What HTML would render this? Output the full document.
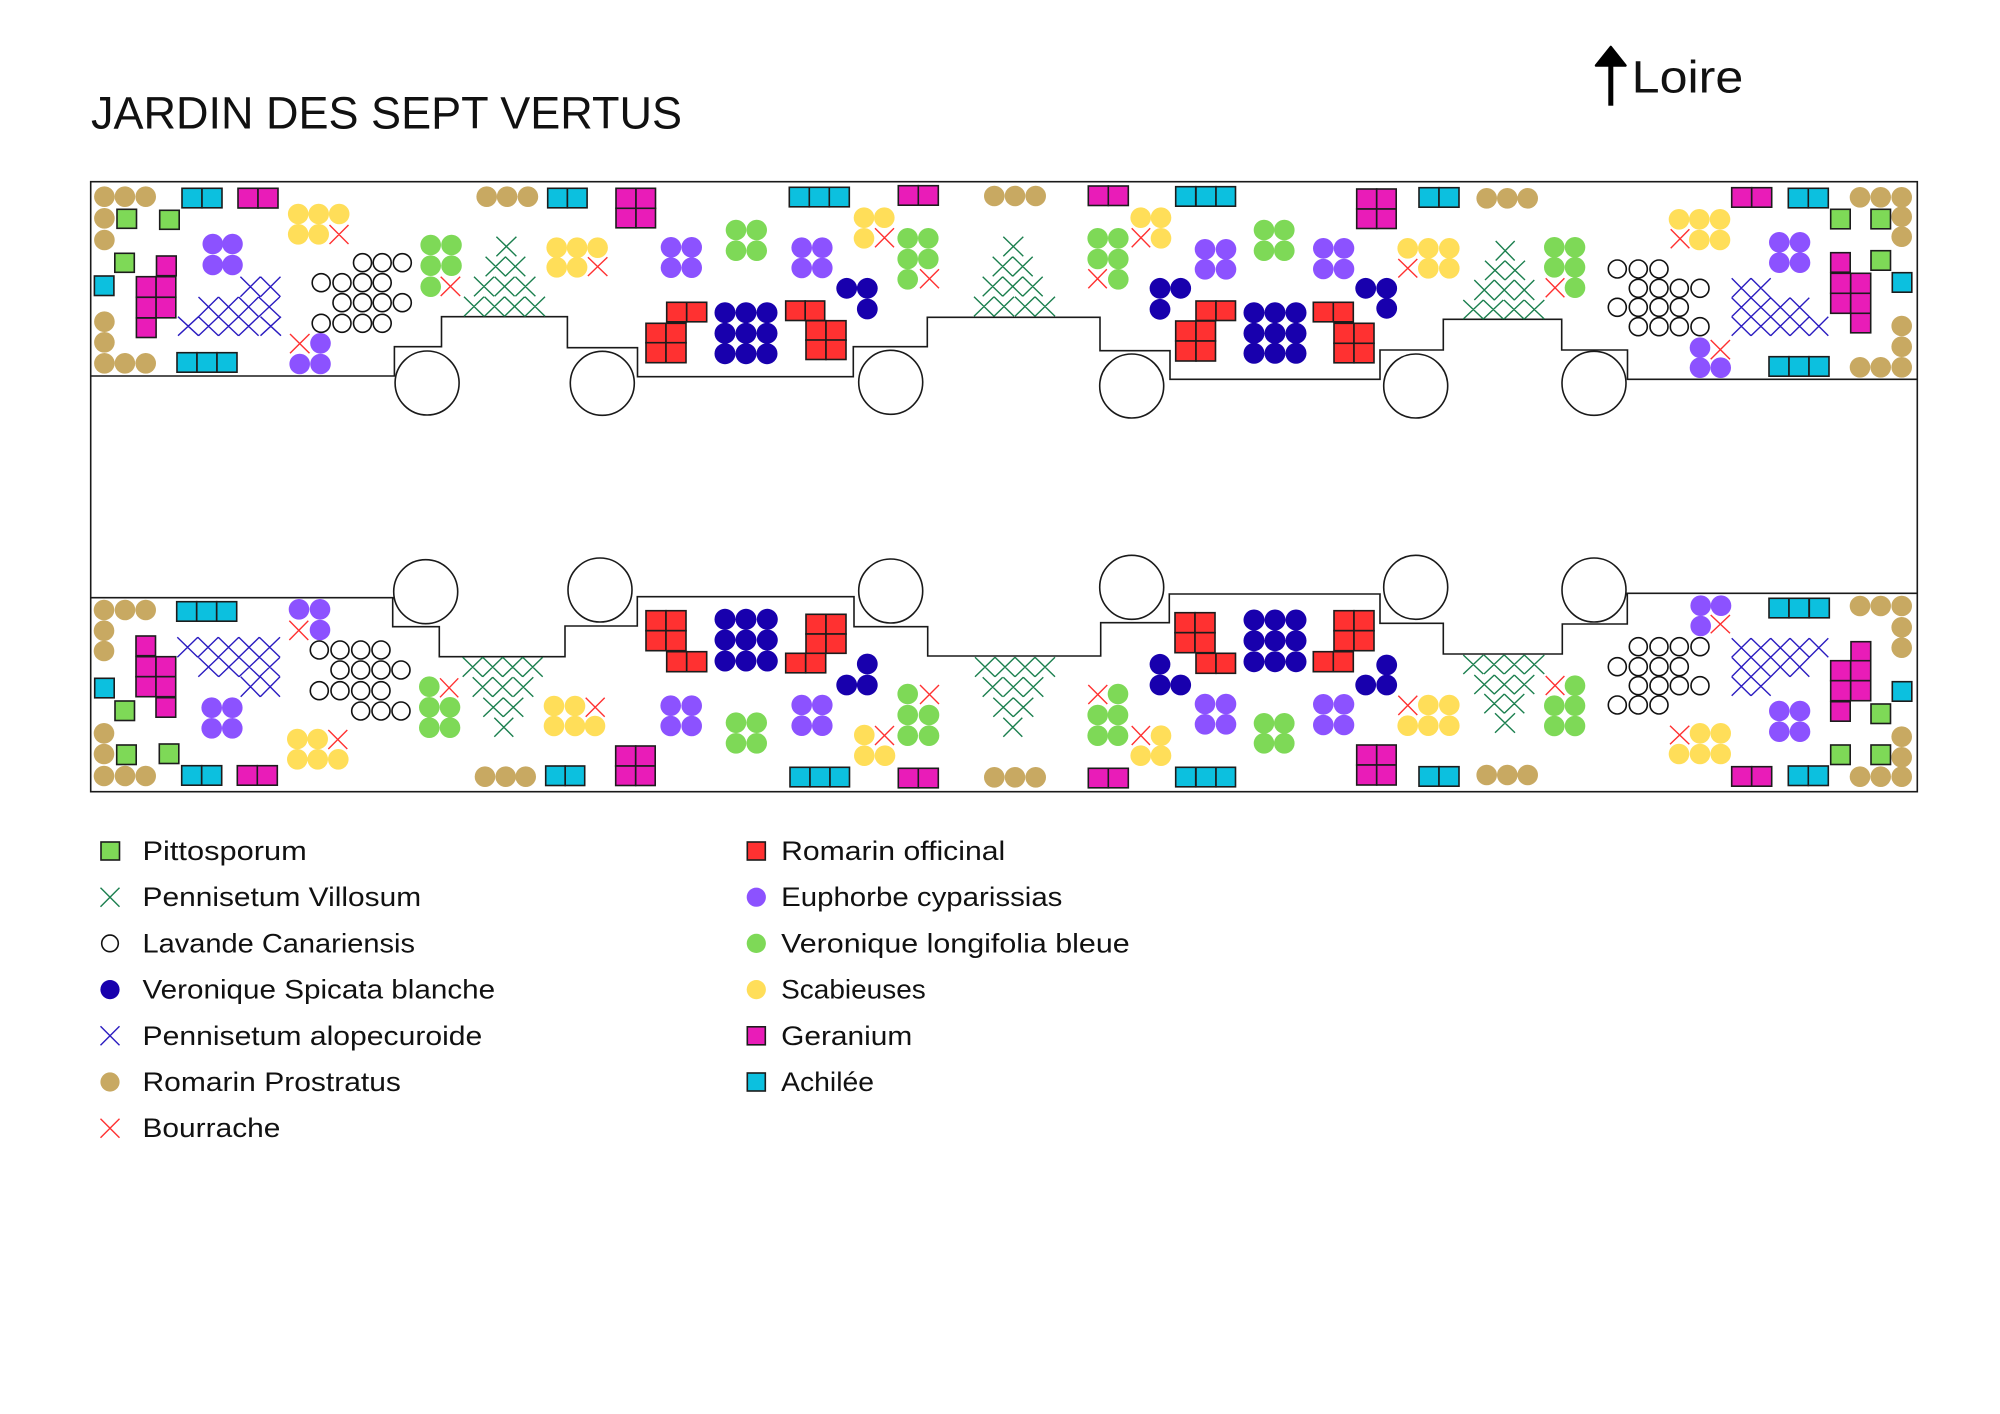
<!DOCTYPE html>
<html>
<head>
<meta charset="utf-8">
<style>
html,body{margin:0;padding:0;background:#fff;}
svg{display:block;}
text{font-family:"Liberation Sans",sans-serif;fill:#111;}
</style>
</head>
<body>
<svg width="2000" height="1414" viewBox="0 0 2000 1414" xmlns="http://www.w3.org/2000/svg">
<rect width="2000" height="1414" fill="#fff"/>

<!-- Title -->
<text x="91" y="128.3" font-size="45.7" textLength="591" lengthAdjust="spacingAndGlyphs">JARDIN DES SEPT VERTUS</text>

<!-- Loire arrow -->
<polygon points="1596,65.5 1610.8,47 1625.5,65.5" fill="#000" stroke="#000" stroke-width="2.5" stroke-linejoin="round"/>
<rect x="1608.3" y="62" width="5" height="43.7" fill="#000"/>
<text x="1631.7" y="92.3" font-size="45.7" textLength="111.6" lengthAdjust="spacingAndGlyphs">Loire</text>

<!-- Frame and borders -->
<g fill="none" stroke="#1a1a1a" stroke-width="1.6">
<rect x="90.7" y="181.7" width="1826.6" height="610"/>
<path d="M90.7,376 H394.4 V346.7 H441.5 V316.7 H567.4 V347.7 H637.5 V376.7 H853.3 V346.7 H927.3 V317.3 H1100 V350.7 H1170 V379.3 H1380 V350 H1443.3 V319.3 H1561.7 V350 H1627.5 V379.3 H1917.3"/>
<path d="M90.7,597.7 H392.7 V626.7 H439.3 V656.7 H565 V626 H637.3 V596.7 H854 V626.7 H927.7 V656 H1100.7 V622.7 H1169.3 V594 H1380 V623.3 H1443.3 V654 H1562.3 V624 H1627.3 V593.3 H1917.3"/>
</g>
<g fill="#fff" stroke="#1a1a1a" stroke-width="1.6">
<circle cx="427.1" cy="383" r="32"/>
<circle cx="602.3" cy="383.3" r="32"/>
<circle cx="890.7" cy="382.3" r="32"/>
<circle cx="1131.7" cy="386" r="32"/>
<circle cx="1415.7" cy="386" r="32"/>
<circle cx="1594" cy="383.3" r="32"/>
<circle cx="425.7" cy="591.7" r="32"/>
<circle cx="600" cy="590" r="32"/>
<circle cx="890.7" cy="591" r="32"/>
<circle cx="1131.7" cy="587.3" r="32"/>
<circle cx="1415.7" cy="587.3" r="32"/>
<circle cx="1594" cy="590" r="32"/>
</g>

<!-- Romarin Prostratus (tan) -->
<g fill="#c8a962">
<circle cx="104.4" cy="196.7" r="10.3"/><circle cx="124.9" cy="196.7" r="10.3"/><circle cx="145.7" cy="196.7" r="10.3"/>
<circle cx="104.4" cy="218.3" r="10.3"/><circle cx="104.4" cy="240" r="10.3"/>
<circle cx="104.4" cy="321.7" r="10.3"/><circle cx="104.4" cy="342.3" r="10.3"/><circle cx="104.4" cy="363.3" r="10.3"/>
<circle cx="124.9" cy="363.3" r="10.3"/><circle cx="145.7" cy="363.3" r="10.3"/>
<circle cx="486.7" cy="196.7" r="10.3"/><circle cx="507.1" cy="196.7" r="10.3"/><circle cx="527.9" cy="196.7" r="10.3"/>
<circle cx="994.3" cy="196" r="10.3"/><circle cx="1015" cy="196" r="10.3"/><circle cx="1035.7" cy="196" r="10.3"/>
<circle cx="1486.7" cy="198.3" r="10.3"/><circle cx="1507.3" cy="198.3" r="10.3"/><circle cx="1527.7" cy="198.3" r="10.3"/>
<circle cx="1860" cy="197.3" r="10.3"/><circle cx="1880.7" cy="197.3" r="10.3"/><circle cx="1901.7" cy="197.3" r="10.3"/>
<circle cx="1901.7" cy="216.7" r="10.3"/><circle cx="1901.7" cy="236.7" r="10.3"/>
<circle cx="1901.7" cy="326" r="10.3"/><circle cx="1901.7" cy="346.7" r="10.3"/><circle cx="1901.7" cy="367.3" r="10.3"/>
<circle cx="1860" cy="367.3" r="10.3"/><circle cx="1880.7" cy="367.3" r="10.3"/>
<!-- bottom -->
<circle cx="104" cy="610" r="10.3"/><circle cx="125" cy="610" r="10.3"/><circle cx="145.7" cy="610" r="10.3"/>
<circle cx="104" cy="630.7" r="10.3"/><circle cx="104" cy="651" r="10.3"/>
<circle cx="104" cy="733.3" r="10.3"/><circle cx="104" cy="754" r="10.3"/><circle cx="104" cy="776" r="10.3"/>
<circle cx="125" cy="776" r="10.3"/><circle cx="145.7" cy="776" r="10.3"/>
<circle cx="485" cy="776.7" r="10.3"/><circle cx="505.7" cy="776.7" r="10.3"/><circle cx="525.7" cy="776.7" r="10.3"/>
<circle cx="994.3" cy="777.3" r="10.3"/><circle cx="1015" cy="777.3" r="10.3"/><circle cx="1035.7" cy="777.3" r="10.3"/>
<circle cx="1486.7" cy="775" r="10.3"/><circle cx="1507.3" cy="775" r="10.3"/><circle cx="1527.7" cy="775" r="10.3"/>
<circle cx="1860" cy="606" r="10.3"/><circle cx="1880.7" cy="606" r="10.3"/><circle cx="1901.7" cy="606" r="10.3"/>
<circle cx="1901.7" cy="627.3" r="10.3"/><circle cx="1901.7" cy="647.7" r="10.3"/>
<circle cx="1901.7" cy="736.7" r="10.3"/><circle cx="1901.7" cy="757.3" r="10.3"/><circle cx="1901.7" cy="776.7" r="10.3"/>
<circle cx="1860" cy="776.7" r="10.3"/><circle cx="1880.7" cy="776.7" r="10.3"/>
</g>

<!-- Pittosporum (green squares) -->
<g fill="#7ed957" stroke="#1c1c1c" stroke-width="1.6">
<rect x="117" y="209.3" width="19.5" height="19"/>
<rect x="159.7" y="210.3" width="19.5" height="19"/>
<rect x="114.8" y="253.3" width="19.5" height="19"/>
<rect x="1830.7" y="209.3" width="19.5" height="19.5"/>
<rect x="1871" y="209.3" width="19.5" height="19.5"/>
<rect x="1871" y="250.7" width="19.5" height="19.5"/>
<rect x="115" y="701" width="19.5" height="19.5"/>
<rect x="116.7" y="745" width="19.5" height="19.5"/>
<rect x="159.3" y="744" width="19.5" height="19.5"/>
<rect x="1871" y="704" width="19.5" height="19.5"/>
<rect x="1830.7" y="745" width="19.5" height="19.5"/>
<rect x="1871" y="745" width="19.5" height="19.5"/>
</g>

<!-- Achillée (cyan squares) -->
<g fill="#0cc0df" stroke="#1c1c1c" stroke-width="1.6">
<rect x="182" y="188.3" width="20" height="19.5"/><rect x="202" y="188.3" width="20" height="19.5"/>
<rect x="94.4" y="276" width="19.5" height="19.5"/>
<rect x="177" y="352.7" width="20" height="19.5"/><rect x="197" y="352.7" width="20" height="19.5"/><rect x="217" y="352.7" width="20" height="19.5"/>
<rect x="547.7" y="188.3" width="19.7" height="19.5"/><rect x="567.4" y="188.3" width="19.7" height="19.5"/>
<rect x="789.3" y="187.3" width="20" height="19.5"/><rect x="809.3" y="187.3" width="20" height="19.5"/><rect x="829.3" y="187.3" width="20" height="19.5"/>
<rect x="1175.7" y="186.7" width="20" height="19.5"/><rect x="1196" y="186.7" width="20" height="19.5"/><rect x="1216" y="186.7" width="19.5" height="19.5"/>
<rect x="1419" y="187.7" width="20" height="19.5"/><rect x="1439" y="187.7" width="20" height="19.5"/>
<rect x="1788.3" y="188.3" width="20" height="19.5"/><rect x="1808.3" y="188.3" width="20" height="19.5"/>
<rect x="1892.3" y="272.7" width="19.5" height="19.5"/>
<rect x="1769" y="356.7" width="20" height="19.5"/><rect x="1789" y="356.7" width="20" height="19.5"/><rect x="1809" y="356.7" width="20" height="19.5"/>
<!-- bottom -->
<rect x="176.7" y="601.7" width="20" height="19.5"/><rect x="196.7" y="601.7" width="20" height="19.5"/><rect x="216.7" y="601.7" width="20" height="19.5"/>
<rect x="94.7" y="678.3" width="19.5" height="19.5"/>
<rect x="181.7" y="765.7" width="20" height="19.5"/><rect x="201.7" y="765.7" width="20" height="19.5"/>
<rect x="545.7" y="766" width="19.5" height="19.5"/><rect x="565.2" y="766" width="19.5" height="19.5"/>
<rect x="790" y="767.3" width="20" height="19.5"/><rect x="810" y="767.3" width="20" height="19.5"/><rect x="830" y="767.3" width="19.5" height="19.5"/>
<rect x="1175.7" y="767.3" width="20" height="19.5"/><rect x="1196" y="767.3" width="20" height="19.5"/><rect x="1216" y="767.3" width="19.5" height="19.5"/>
<rect x="1419" y="766.7" width="20" height="19.5"/><rect x="1439" y="766.7" width="20" height="19.5"/>
<rect x="1769" y="598.3" width="20" height="19.5"/><rect x="1789" y="598.3" width="20" height="19.5"/><rect x="1809.3" y="598.3" width="20" height="19.5"/>
<rect x="1892.3" y="681.7" width="19.5" height="19.5"/>
<rect x="1788.3" y="766" width="20" height="19.5"/><rect x="1808.3" y="766" width="20" height="19.5"/>
</g>

<!-- Geranium (magenta squares) -->
<g fill="#e91cb8" stroke="#1c1c1c" stroke-width="1.6">
<rect x="238" y="188.3" width="20" height="19.7"/><rect x="258" y="188.3" width="20" height="19.7"/>
<rect x="156.5" y="256" width="19.7" height="19.7"/>
<rect x="136.4" y="276.7" width="19.7" height="20.5"/><rect x="156.1" y="276.7" width="19.7" height="20.5"/>
<rect x="136.4" y="297.3" width="19.7" height="20.5"/><rect x="156.1" y="297.3" width="19.7" height="20.5"/>
<rect x="136.4" y="318" width="19.7" height="19.5"/>
<rect x="616" y="188.3" width="20" height="20"/><rect x="636" y="188.3" width="19.5" height="20"/>
<rect x="616" y="208.3" width="20" height="19.5"/><rect x="636" y="208.3" width="19.5" height="19.5"/>
<rect x="898.3" y="185.7" width="20" height="19.5"/><rect x="918.3" y="185.7" width="20" height="19.5"/>
<rect x="1088.3" y="186" width="20" height="19.5"/><rect x="1108.3" y="186" width="20" height="19.5"/>
<rect x="1356.7" y="189" width="20" height="20"/><rect x="1376.7" y="189" width="19.5" height="20"/>
<rect x="1356.7" y="209" width="20" height="19.5"/><rect x="1376.7" y="209" width="19.5" height="19.5"/>
<rect x="1731.7" y="187.7" width="20" height="19.5"/><rect x="1751.7" y="187.7" width="20" height="19.5"/>
<rect x="1830.7" y="252.7" width="19.5" height="19.5"/>
<rect x="1830.7" y="273.3" width="20" height="20"/><rect x="1850.7" y="273.3" width="20" height="20"/>
<rect x="1830.7" y="293.3" width="20" height="20"/><rect x="1850.7" y="293.3" width="20" height="20"/>
<rect x="1850.7" y="313.3" width="20" height="19.5"/>
<!-- bottom -->
<rect x="136" y="636" width="19.5" height="19.7"/>
<rect x="136" y="656.7" width="20" height="20"/><rect x="156" y="656.7" width="19.7" height="20"/>
<rect x="136" y="676.7" width="20" height="20"/><rect x="156" y="676.7" width="19.7" height="20"/>
<rect x="156" y="697.7" width="19.7" height="19.5"/>
<rect x="237.3" y="765.7" width="20" height="19.5"/><rect x="257.3" y="765.7" width="20" height="19.5"/>
<rect x="615.7" y="746" width="20" height="20"/><rect x="635.7" y="746" width="19.5" height="20"/>
<rect x="615.7" y="766" width="20" height="19.5"/><rect x="635.7" y="766" width="19.5" height="19.5"/>
<rect x="898.3" y="768.3" width="20" height="19.5"/><rect x="918.3" y="768.3" width="20" height="19.5"/>
<rect x="1088.3" y="768.3" width="20" height="19.5"/><rect x="1108.3" y="768.3" width="20" height="19.5"/>
<rect x="1356.7" y="745" width="20" height="20"/><rect x="1376.7" y="745" width="19.5" height="20"/>
<rect x="1356.7" y="765" width="20" height="20"/><rect x="1376.7" y="765" width="19.5" height="20"/>
<rect x="1731.7" y="766.7" width="20" height="19.5"/><rect x="1751.7" y="766.7" width="20" height="19.5"/>
<rect x="1851" y="641.7" width="19.7" height="19.5"/>
<rect x="1830.7" y="660.7" width="20" height="20"/><rect x="1850.7" y="660.7" width="20" height="20"/>
<rect x="1830.7" y="680.7" width="20" height="20"/><rect x="1850.7" y="680.7" width="20" height="20"/>
<rect x="1830.7" y="701.7" width="19.5" height="19.5"/>
</g>

<!-- Romarin officinal (red squares) -->
<g fill="#ff3131" stroke="#1c1c1c" stroke-width="1.6">
<rect x="666.7" y="302.3" width="20" height="19.5"/><rect x="686.7" y="302.3" width="20" height="19.5"/>
<rect x="646" y="323.3" width="20" height="19.5"/><rect x="666" y="323.3" width="20" height="19.5"/>
<rect x="646" y="342.7" width="20" height="20"/><rect x="666" y="342.7" width="20" height="20"/>
<rect x="785.7" y="301" width="19.5" height="19.5"/><rect x="805.2" y="301" width="19.5" height="19.5"/>
<rect x="806" y="320.7" width="20" height="19.5"/><rect x="826" y="320.7" width="20" height="19.5"/>
<rect x="806" y="340" width="20" height="19.5"/><rect x="826" y="340" width="20" height="19.5"/>
<rect x="1196" y="301" width="20" height="19.5"/><rect x="1216" y="301" width="19.5" height="19.5"/>
<rect x="1175.7" y="321" width="20.3" height="20"/><rect x="1196" y="321" width="19.5" height="20"/>
<rect x="1175.7" y="341" width="20.3" height="20"/><rect x="1196" y="341" width="19.5" height="20"/>
<rect x="1313.3" y="302.3" width="20" height="19.5"/><rect x="1333.3" y="302.3" width="20" height="19.5"/>
<rect x="1334" y="323.3" width="20" height="20"/><rect x="1354" y="323.3" width="20" height="20"/>
<rect x="1334" y="343.3" width="20" height="19.5"/><rect x="1354" y="343.3" width="20" height="19.5"/>
<!-- bottom -->
<rect x="646" y="610.7" width="20" height="20"/><rect x="666" y="610.7" width="20" height="20"/>
<rect x="646" y="630.7" width="20" height="20"/><rect x="666" y="630.7" width="20" height="20"/>
<rect x="666.7" y="651.7" width="20" height="20"/><rect x="686.7" y="651.7" width="20" height="20"/>
<rect x="806" y="614.3" width="20" height="19.7"/><rect x="826" y="614.3" width="20" height="19.7"/>
<rect x="806" y="634" width="20" height="19.3"/><rect x="826" y="634" width="20" height="19.3"/>
<rect x="785.7" y="653.3" width="20" height="19.5"/><rect x="805.7" y="653.3" width="20" height="19.5"/>
<rect x="1175" y="612.7" width="20" height="20"/><rect x="1195" y="612.7" width="20" height="20"/>
<rect x="1175" y="632.7" width="20" height="20"/><rect x="1195" y="632.7" width="20" height="20"/>
<rect x="1196" y="653.3" width="20" height="20"/><rect x="1216" y="653.3" width="19.5" height="20"/>
<rect x="1334" y="610.7" width="20" height="20"/><rect x="1354" y="610.7" width="20" height="20"/>
<rect x="1334" y="630.7" width="20" height="20"/><rect x="1354" y="630.7" width="20" height="20"/>
<rect x="1313.3" y="651.7" width="20" height="20"/><rect x="1333.3" y="651.7" width="20" height="20"/>
</g>

<!-- Euphorbe (purple) -->
<g fill="#8c52ff">
<circle cx="212.8" cy="244" r="10.3"/><circle cx="232.5" cy="244" r="10.3"/><circle cx="212.8" cy="265" r="10.3"/><circle cx="232.5" cy="265" r="10.3"/>
<circle cx="320.5" cy="343.3" r="10.3"/><circle cx="299.7" cy="364" r="10.3"/><circle cx="320.5" cy="364" r="10.3"/>
<circle cx="671" cy="247.3" r="10.3"/><circle cx="691.7" cy="247.3" r="10.3"/><circle cx="671" cy="267.7" r="10.3"/><circle cx="691.7" cy="267.7" r="10.3"/>
<circle cx="801.7" cy="247.7" r="10.3"/><circle cx="822.3" cy="247.7" r="10.3"/><circle cx="801.7" cy="268" r="10.3"/><circle cx="822.3" cy="268" r="10.3"/>
<circle cx="1205" cy="249.3" r="10.3"/><circle cx="1226" cy="249.3" r="10.3"/><circle cx="1205" cy="269.3" r="10.3"/><circle cx="1226" cy="269.3" r="10.3"/>
<circle cx="1323.3" cy="248.3" r="10.3"/><circle cx="1344" cy="248.3" r="10.3"/><circle cx="1323.3" cy="269" r="10.3"/><circle cx="1344" cy="269" r="10.3"/>
<circle cx="1779.3" cy="242.3" r="10.3"/><circle cx="1800" cy="242.3" r="10.3"/><circle cx="1779.3" cy="262.7" r="10.3"/><circle cx="1800" cy="262.7" r="10.3"/>
<circle cx="1700" cy="347.7" r="10.3"/><circle cx="1700" cy="367.7" r="10.3"/><circle cx="1720.7" cy="367.7" r="10.3"/>
<!-- bottom -->
<circle cx="299" cy="609.3" r="10.3"/><circle cx="320" cy="609.3" r="10.3"/><circle cx="320" cy="630" r="10.3"/>
<circle cx="211.7" cy="707.7" r="10.3"/><circle cx="232.3" cy="707.7" r="10.3"/><circle cx="211.7" cy="728.3" r="10.3"/><circle cx="232.3" cy="728.3" r="10.3"/>
<circle cx="670.7" cy="705.7" r="10.3"/><circle cx="691.7" cy="705.7" r="10.3"/><circle cx="670.7" cy="726" r="10.3"/><circle cx="691.7" cy="726" r="10.3"/>
<circle cx="801.7" cy="705" r="10.3"/><circle cx="822.3" cy="705" r="10.3"/><circle cx="801.7" cy="725.7" r="10.3"/><circle cx="822.3" cy="725.7" r="10.3"/>
<circle cx="1205" cy="704" r="10.3"/><circle cx="1226" cy="704" r="10.3"/><circle cx="1205" cy="724.3" r="10.3"/><circle cx="1226" cy="724.3" r="10.3"/>
<circle cx="1323.3" cy="704.3" r="10.3"/><circle cx="1344" cy="704.3" r="10.3"/><circle cx="1323.3" cy="725" r="10.3"/><circle cx="1344" cy="725" r="10.3"/>
<circle cx="1700.7" cy="605.7" r="10.3"/><circle cx="1721" cy="605.7" r="10.3"/><circle cx="1700.7" cy="626" r="10.3"/>
<circle cx="1779.3" cy="711" r="10.3"/><circle cx="1800" cy="711" r="10.3"/><circle cx="1779.3" cy="731.7" r="10.3"/><circle cx="1800" cy="731.7" r="10.3"/>
</g>

<!-- Veronique longifolia (green circles) -->
<g fill="#7ed957">
<circle cx="430.7" cy="245" r="10.3"/><circle cx="451.5" cy="245" r="10.3"/><circle cx="430.7" cy="265.7" r="10.3"/><circle cx="451.5" cy="265.7" r="10.3"/><circle cx="430.7" cy="286.7" r="10.3"/>
<circle cx="736" cy="230" r="10.3"/><circle cx="756.7" cy="230" r="10.3"/><circle cx="736" cy="250.7" r="10.3"/><circle cx="756.7" cy="250.7" r="10.3"/>
<circle cx="907.7" cy="238.3" r="10.3"/><circle cx="928.3" cy="238.3" r="10.3"/><circle cx="907.7" cy="259" r="10.3"/><circle cx="928.3" cy="259" r="10.3"/><circle cx="907.7" cy="279.3" r="10.3"/>
<circle cx="1097.7" cy="238.3" r="10.3"/><circle cx="1118.3" cy="238.3" r="10.3"/><circle cx="1097.7" cy="259" r="10.3"/><circle cx="1118.3" cy="259" r="10.3"/><circle cx="1118.3" cy="279.3" r="10.3"/>
<circle cx="1264" cy="230" r="10.3"/><circle cx="1284.3" cy="230" r="10.3"/><circle cx="1264" cy="250.7" r="10.3"/><circle cx="1284.3" cy="250.7" r="10.3"/>
<circle cx="1554.3" cy="247.3" r="10.3"/><circle cx="1575" cy="247.3" r="10.3"/><circle cx="1554.3" cy="267.3" r="10.3"/><circle cx="1575" cy="267.3" r="10.3"/><circle cx="1575" cy="287.7" r="10.3"/>
<!-- bottom -->
<circle cx="429.3" cy="686.7" r="10.3"/><circle cx="429.3" cy="707.3" r="10.3"/><circle cx="450" cy="707.3" r="10.3"/><circle cx="429.3" cy="727.7" r="10.3"/><circle cx="450" cy="727.7" r="10.3"/>
<circle cx="736" cy="722.7" r="10.3"/><circle cx="756.7" cy="722.7" r="10.3"/><circle cx="736" cy="743.3" r="10.3"/><circle cx="756.7" cy="743.3" r="10.3"/>
<circle cx="907.7" cy="694" r="10.3"/><circle cx="907.7" cy="715" r="10.3"/><circle cx="929" cy="715" r="10.3"/><circle cx="907.7" cy="735.7" r="10.3"/><circle cx="929" cy="735.7" r="10.3"/>
<circle cx="1118" cy="694" r="10.3"/><circle cx="1097.7" cy="715" r="10.3"/><circle cx="1118" cy="715" r="10.3"/><circle cx="1097.7" cy="735.7" r="10.3"/><circle cx="1118" cy="735.7" r="10.3"/>
<circle cx="1264" cy="723.3" r="10.3"/><circle cx="1284.3" cy="723.3" r="10.3"/><circle cx="1264" cy="743.3" r="10.3"/><circle cx="1284.3" cy="743.3" r="10.3"/>
<circle cx="1575" cy="685.7" r="10.3"/><circle cx="1554.3" cy="705.7" r="10.3"/><circle cx="1575" cy="705.7" r="10.3"/><circle cx="1554.3" cy="726" r="10.3"/><circle cx="1575" cy="726" r="10.3"/>
</g>

<!-- Scabieuses (yellow) -->
<g fill="#ffde59">
<circle cx="298.2" cy="214" r="10.3"/><circle cx="318.7" cy="214" r="10.3"/><circle cx="339.2" cy="214" r="10.3"/><circle cx="298.2" cy="234.3" r="10.3"/><circle cx="318.7" cy="234.3" r="10.3"/>
<circle cx="556.7" cy="247.7" r="10.3"/><circle cx="577.1" cy="247.7" r="10.3"/><circle cx="597.6" cy="247.7" r="10.3"/><circle cx="556.7" cy="267.3" r="10.3"/><circle cx="577.1" cy="267.3" r="10.3"/>
<circle cx="864" cy="217.7" r="10.3"/><circle cx="884.3" cy="217.7" r="10.3"/><circle cx="864" cy="238.3" r="10.3"/>
<circle cx="1140.7" cy="217.7" r="10.3"/><circle cx="1161" cy="217.7" r="10.3"/><circle cx="1161" cy="238.3" r="10.3"/>
<circle cx="1407.7" cy="248.3" r="10.3"/><circle cx="1428.3" cy="248.3" r="10.3"/><circle cx="1449.3" cy="248.3" r="10.3"/><circle cx="1428.3" cy="268.3" r="10.3"/><circle cx="1449.3" cy="268.3" r="10.3"/>
<circle cx="1679" cy="219.3" r="10.3"/><circle cx="1699.3" cy="219.3" r="10.3"/><circle cx="1720" cy="219.3" r="10.3"/><circle cx="1699.3" cy="240" r="10.3"/><circle cx="1720" cy="240" r="10.3"/>
<!-- bottom -->
<circle cx="297.3" cy="739" r="10.3"/><circle cx="317.7" cy="739" r="10.3"/><circle cx="297.3" cy="759.3" r="10.3"/><circle cx="317.7" cy="759.3" r="10.3"/><circle cx="338.3" cy="759.3" r="10.3"/>
<circle cx="554" cy="706" r="10.3"/><circle cx="575" cy="706" r="10.3"/><circle cx="554" cy="726" r="10.3"/><circle cx="575" cy="726" r="10.3"/><circle cx="595" cy="726" r="10.3"/>
<circle cx="864.3" cy="735" r="10.3"/><circle cx="864.3" cy="755.7" r="10.3"/><circle cx="885" cy="755.7" r="10.3"/>
<circle cx="1161" cy="735.7" r="10.3"/><circle cx="1140.7" cy="755.7" r="10.3"/><circle cx="1161" cy="755.7" r="10.3"/>
<circle cx="1428.3" cy="705" r="10.3"/><circle cx="1449.3" cy="705" r="10.3"/><circle cx="1407.7" cy="725.7" r="10.3"/><circle cx="1428.3" cy="725.7" r="10.3"/><circle cx="1449.3" cy="725.7" r="10.3"/>
<circle cx="1700" cy="733.3" r="10.3"/><circle cx="1720.7" cy="733.3" r="10.3"/><circle cx="1679" cy="754" r="10.3"/><circle cx="1700" cy="754" r="10.3"/><circle cx="1720.7" cy="754" r="10.3"/>
</g>

<!-- Veronique Spicata blanche (dark blue) -->
<g fill="#1800ad">
<circle cx="846.7" cy="288.3" r="10.4"/><circle cx="867.3" cy="288.3" r="10.4"/><circle cx="867.3" cy="309" r="10.4"/>
<circle cx="725" cy="312.7" r="10.5"/><circle cx="746" cy="312.7" r="10.5"/><circle cx="767" cy="312.7" r="10.5"/>
<circle cx="725" cy="333.3" r="10.5"/><circle cx="746" cy="333.3" r="10.5"/><circle cx="767" cy="333.3" r="10.5"/>
<circle cx="725" cy="353.7" r="10.5"/><circle cx="746" cy="353.7" r="10.5"/><circle cx="767" cy="353.7" r="10.5"/>
<circle cx="1160" cy="288.3" r="10.4"/><circle cx="1180.7" cy="288.3" r="10.4"/><circle cx="1160" cy="309.3" r="10.4"/>
<circle cx="1254" cy="312.7" r="10.5"/><circle cx="1275" cy="312.7" r="10.5"/><circle cx="1296" cy="312.7" r="10.5"/>
<circle cx="1254" cy="333.3" r="10.5"/><circle cx="1275" cy="333.3" r="10.5"/><circle cx="1296" cy="333.3" r="10.5"/>
<circle cx="1254" cy="353.3" r="10.5"/><circle cx="1275" cy="353.3" r="10.5"/><circle cx="1296" cy="353.3" r="10.5"/>
<circle cx="1365.7" cy="288.3" r="10.4"/><circle cx="1386.7" cy="288.3" r="10.4"/><circle cx="1386.7" cy="308.3" r="10.4"/>
<!-- bottom -->
<circle cx="867.3" cy="664" r="10.4"/><circle cx="846.7" cy="685" r="10.4"/><circle cx="867.3" cy="685" r="10.4"/>
<circle cx="725" cy="619.3" r="10.5"/><circle cx="746" cy="619.3" r="10.5"/><circle cx="767.3" cy="619.3" r="10.5"/>
<circle cx="725" cy="640" r="10.5"/><circle cx="746" cy="640" r="10.5"/><circle cx="767.3" cy="640" r="10.5"/>
<circle cx="725" cy="661" r="10.5"/><circle cx="746" cy="661" r="10.5"/><circle cx="767.3" cy="661" r="10.5"/>
<circle cx="1160" cy="664.3" r="10.4"/><circle cx="1160" cy="685" r="10.4"/><circle cx="1180.7" cy="685" r="10.4"/>
<circle cx="1254" cy="620" r="10.5"/><circle cx="1275" cy="620" r="10.5"/><circle cx="1296" cy="620" r="10.5"/>
<circle cx="1254" cy="640.7" r="10.5"/><circle cx="1275" cy="640.7" r="10.5"/><circle cx="1296" cy="640.7" r="10.5"/>
<circle cx="1254" cy="661.7" r="10.5"/><circle cx="1275" cy="661.7" r="10.5"/><circle cx="1296" cy="661.7" r="10.5"/>
<circle cx="1386.7" cy="665" r="10.4"/><circle cx="1365.7" cy="685" r="10.4"/><circle cx="1386.7" cy="685" r="10.4"/>
</g>

<!-- Lavande Canariensis (outline circles) -->
<g fill="#fff" stroke="#111" stroke-width="1.6">
<circle cx="362.5" cy="262.7" r="9"/><circle cx="382.2" cy="262.7" r="9"/><circle cx="402.3" cy="262.7" r="9"/>
<circle cx="321.2" cy="282.7" r="9"/><circle cx="342" cy="282.7" r="9"/><circle cx="362.5" cy="282.7" r="9"/><circle cx="382.2" cy="282.7" r="9"/>
<circle cx="342" cy="302.7" r="9"/><circle cx="362.5" cy="302.7" r="9"/><circle cx="382.2" cy="302.7" r="9"/><circle cx="402.3" cy="302.7" r="9"/>
<circle cx="321.2" cy="323.3" r="9"/><circle cx="342" cy="323.3" r="9"/><circle cx="362.5" cy="323.3" r="9"/><circle cx="382.2" cy="323.3" r="9"/>
<circle cx="1617.3" cy="269" r="9"/><circle cx="1638.3" cy="269" r="9"/><circle cx="1659" cy="269" r="9"/>
<circle cx="1638.3" cy="288.3" r="9"/><circle cx="1659" cy="288.3" r="9"/><circle cx="1679.3" cy="288.3" r="9"/><circle cx="1700" cy="288.3" r="9"/>
<circle cx="1617.3" cy="307.3" r="9"/><circle cx="1638.3" cy="307.3" r="9"/><circle cx="1659" cy="307.3" r="9"/><circle cx="1679.3" cy="307.3" r="9"/>
<circle cx="1638.3" cy="326.7" r="9"/><circle cx="1659" cy="326.7" r="9"/><circle cx="1679.3" cy="326.7" r="9"/><circle cx="1700" cy="326.7" r="9"/>
<!-- bottom -->
<circle cx="319.3" cy="650" r="9"/><circle cx="340" cy="650" r="9"/><circle cx="360.7" cy="650" r="9"/><circle cx="381" cy="650" r="9"/>
<circle cx="340" cy="670" r="9"/><circle cx="360.7" cy="670" r="9"/><circle cx="381" cy="670" r="9"/><circle cx="401" cy="670" r="9"/>
<circle cx="319.3" cy="690.7" r="9"/><circle cx="340" cy="690.7" r="9"/><circle cx="360.7" cy="690.7" r="9"/><circle cx="381" cy="690.7" r="9"/>
<circle cx="360.7" cy="711" r="9"/><circle cx="381" cy="711" r="9"/><circle cx="401" cy="711" r="9"/>
<circle cx="1638.3" cy="646.7" r="9"/><circle cx="1659" cy="646.7" r="9"/><circle cx="1679.3" cy="646.7" r="9"/><circle cx="1700" cy="646.7" r="9"/>
<circle cx="1617.3" cy="666.7" r="9"/><circle cx="1638.3" cy="666.7" r="9"/><circle cx="1659" cy="666.7" r="9"/><circle cx="1679.3" cy="666.7" r="9"/>
<circle cx="1638.3" cy="685.7" r="9"/><circle cx="1659" cy="685.7" r="9"/><circle cx="1679.3" cy="685.7" r="9"/><circle cx="1700" cy="685.7" r="9"/>
<circle cx="1617.3" cy="705" r="9"/><circle cx="1638.3" cy="705" r="9"/><circle cx="1659" cy="705" r="9"/>
</g>

<!-- Pennisetum Villosum (green X) -->
<path fill="none" stroke="#1b7f4e" stroke-width="1.4" d="
M496.4,236.7l20,19.5m0,-19.5l-20,19.5
M485.6,256.7l20,19.5m0,-19.5l-20,19.5 M505.3,256.7l20,19.5m0,-19.5l-20,19.5
M474,276.7l20,19.5m0,-19.5l-20,19.5 M494.6,276.7l20,19.5m0,-19.5l-20,19.5 M515.4,276.7l20,19.5m0,-19.5l-20,19.5
M464,296.7l20,19.5m0,-19.5l-20,19.5 M484.5,296.7l20,19.5m0,-19.5l-20,19.5 M504.6,296.7l20,19.5m0,-19.5l-20,19.5 M525,296.7l20,19.5m0,-19.5l-20,19.5
M1003.3,236.7l20,19.5m0,-19.5l-20,19.5
M992.7,256.7l20,19.5m0,-19.5l-20,19.5 M1012.7,256.7l20,19.5m0,-19.5l-20,19.5
M982.7,276.7l20,19.5m0,-19.5l-20,19.5 M1002.7,276.7l20,19.5m0,-19.5l-20,19.5 M1022.7,276.7l20,19.5m0,-19.5l-20,19.5
M974,296.7l20,19.5m0,-19.5l-20,19.5 M994,296.7l20,19.5m0,-19.5l-20,19.5 M1015,296.7l20,19.5m0,-19.5l-20,19.5 M1035,296.7l20,19.5m0,-19.5l-20,19.5
M1495.7,241l19,19.5m0,-19.5l-19,19.5
M1485,260.7l20,19.3m0,-19.3l-20,19.3 M1505,260.7l20,19.3m0,-19.3l-20,19.3
M1474.3,280l20,20m0,-20l-20,20 M1494.3,280l20,20m0,-20l-20,20 M1514.3,280l20,20m0,-20l-20,20
M1463.3,300l20,19m0,-19l-20,19 M1483.3,300l20,19m0,-19l-20,19 M1504,300l20,19m0,-19l-20,19 M1524.3,300l20,19m0,-19l-20,19
M462.7,657.3l20,19.5m0,-19.5l-20,19.5 M482.7,657.3l20,19.5m0,-19.5l-20,19.5 M502.7,657.3l20,19.5m0,-19.5l-20,19.5 M522.7,657.3l20,19.5m0,-19.5l-20,19.5
M472.7,677.3l20,19.5m0,-19.5l-20,19.5 M492.7,677.3l20,19.5m0,-19.5l-20,19.5 M513.3,677.3l20,19.5m0,-19.5l-20,19.5
M483.3,697.7l20,19m0,-19l-20,19 M503.3,697.7l20,19m0,-19l-20,19
M494.3,717.7l19,19m0,-19l-19,19
M975,657.3l20,19.5m0,-19.5l-20,19.5 M995,657.3l20,19.5m0,-19.5l-20,19.5 M1015,657.3l20,19.5m0,-19.5l-20,19.5 M1035,657.3l20,19.5m0,-19.5l-20,19.5
M982.7,677.3l20,19.5m0,-19.5l-20,19.5 M1003.3,677.3l20,19.5m0,-19.5l-20,19.5 M1023.3,677.3l20,19.5m0,-19.5l-20,19.5
M993.3,697.7l20,19m0,-19l-20,19 M1013.3,697.7l20,19m0,-19l-20,19
M1003.3,717.7l19,19m0,-19l-19,19
M1463.3,655l20,19m0,-19l-20,19 M1484,655l20,19m0,-19l-20,19 M1504.3,655l20,19m0,-19l-20,19 M1524.3,655l20,19m0,-19l-20,19
M1474.3,675l20,19m0,-19l-20,19 M1494.3,675l20,19m0,-19l-20,19 M1514.3,675l20,19m0,-19l-20,19
M1484.3,694l20,19.3m0,-19.3l-20,19.3 M1504.3,694l20,19.3m0,-19.3l-20,19.3
M1495,713.3l20,19.4m0,-19.4l-20,19.4
"/>

<!-- Pennisetum alopecuroide (blue X) -->
<path fill="none" stroke="#2b1cc0" stroke-width="1.4" d="
M240.4,276.7l20,20m0,-20l-20,20 M260.5,276.7l20,20m0,-20l-20,20
M198.5,297l20,19.7m0,-19.7l-20,19.7 M218.5,297l20,19.7m0,-19.7l-20,19.7 M238.6,297l20,19.7m0,-19.7l-20,19.7 M258.7,297l21,19.7m0,-19.7l-21,19.7
M178,316.7l20.5,19m0,-19l-20.5,19 M198.5,316.7l20,19m0,-19l-20,19 M218.5,316.7l20,19m0,-19l-20,19 M238.6,316.7l20,19m0,-19l-20,19 M260.5,316.7l20.5,19m0,-19l-20.5,19
M1731.7,278.3l19.3,19.4m0,-19.4l-19.3,19.4 M1751,278.3l19.7,19.4m0,-19.4l-19.7,19.4
M1731.7,297.7l19.3,19m0,-19l-19.3,19 M1751,297.7l19.7,19m0,-19l-19.7,19 M1770.7,297.7l19.3,19m0,-19l-19.3,19 M1790,297.7l19.3,19m0,-19l-19.3,19
M1731.7,316.7l19.3,19m0,-19l-19.3,19 M1751,316.7l19.7,19m0,-19l-19.7,19 M1770.7,316.7l19.3,19m0,-19l-19.3,19 M1790,316.7l19.3,19m0,-19l-19.3,19 M1809.3,316.7l19,19m0,-19l-19,19
M177.3,637.3l20.5,20m0,-20l-20.5,20 M197.8,637.3l20.5,20m0,-20l-20.5,20 M218.3,637.3l20.5,20m0,-20l-20.5,20 M238.8,637.3l20.5,20m0,-20l-20.5,20 M259.3,637.3l20.7,20m0,-20l-20.7,20
M198.3,657.3l20.4,19.4m0,-19.4l-20.4,19.4 M218.7,657.3l20.3,19.4m0,-19.4l-20.3,19.4 M239,657.3l20.5,19.4m0,-19.4l-20.5,19.4 M259.5,657.3l20.5,19.4m0,-19.4l-20.5,19.4
M240.7,676.7l19.6,20m0,-20l-19.6,20 M260.3,676.7l19.7,20m0,-20l-19.7,20
M1731.7,638.3l19.3,19m0,-19l-19.3,19 M1751,638.3l19.7,19m0,-19l-19.7,19 M1770.7,638.3l19.3,19m0,-19l-19.3,19 M1790,638.3l19.3,19m0,-19l-19.3,19 M1809.3,638.3l19,19m0,-19l-19,19
M1731.7,657.3l19.3,19.4m0,-19.4l-19.3,19.4 M1751,657.3l19.7,19.4m0,-19.4l-19.7,19.4 M1770.7,657.3l19.3,19.4m0,-19.4l-19.3,19.4 M1790,657.3l19.3,19.4m0,-19.4l-19.3,19.4
M1731.7,676.7l19.3,19m0,-19l-19.3,19 M1751,676.7l19.7,19m0,-19l-19.7,19
"/>

<!-- Bourrache (red X) -->
<path fill="none" stroke="#ff3131" stroke-width="1.4" d="
M329.5,225l19,19m0,-19l-19,19
M290,334l19.5,19.3m0,-19.3l-19.5,19.3
M440.7,276.7l19.5,19.3m0,-19.3l-19.5,19.3
M587.9,257.3l19.5,18.7m0,-18.7l-19.5,18.7
M875,228.3l19,19m0,-19l-19,19
M920,269.3l19,19m0,-19l-19,19
M1088.3,269.3l18.5,19m0,-19l-18.5,19
M1131.7,228.3l18.5,19m0,-19l-18.5,19
M1398.3,259l19,18.5m0,-18.5l-19,18.5
M1545.7,278.3l18.7,19m0,-19l-18.7,19
M1670.7,229.3l18.7,19m0,-19l-18.7,19
M1710.7,340l19.3,19.3m0,-19.3l-19.3,19.3
M289.3,620.7l19,19.3m0,-19.3l-19,19.3
M328.3,730l19,19m0,-19l-19,19
M440,678.3l18.3,19m0,-19l-18.3,19
M585.7,697.7l19,19m0,-19l-19,19
M875,726l19,19m0,-19l-19,19
M920,685l19,19m0,-19l-19,19
M1088.3,685l19,19m0,-19l-19,19
M1131.7,726l18.3,19m0,-19l-18.3,19
M1398.3,695.7l19,19.3m0,-19.3l-19,19.3
M1545.7,676l18.7,19m0,-19l-18.7,19
M1670,725.7l19.3,18.6m0,-18.6l-19.3,18.6
M1710.7,615l19.3,18.3m0,-18.3l-19.3,18.3
"/>

<!-- Legend markers -->
<rect x="101" y="842" width="18.5" height="18" fill="#7ed957" stroke="#1c1c1c" stroke-width="1.6"/>
<path d="M100.5,887.7l19,19m0,-19l-19,19" fill="none" stroke="#1b7f4e" stroke-width="1.4"/>
<circle cx="110" cy="943.4" r="8.3" fill="#fff" stroke="#111" stroke-width="1.6"/>
<circle cx="110" cy="989.6" r="9.6" fill="#1800ad"/>
<path d="M100.5,1026.3l19,19m0,-19l-19,19" fill="none" stroke="#2b1cc0" stroke-width="1.4"/>
<circle cx="110" cy="1082" r="9.6" fill="#c8a962"/>
<path d="M100.5,1118.7l19,19m0,-19l-19,19" fill="none" stroke="#ff3131" stroke-width="1.4"/>

<rect x="747.3" y="842" width="18" height="18" fill="#ff3131" stroke="#1c1c1c" stroke-width="1.6"/>
<circle cx="756.3" cy="897.2" r="9.6" fill="#8c52ff"/>
<circle cx="756.3" cy="943.4" r="9.6" fill="#7ed957"/>
<circle cx="756.3" cy="989.6" r="9.6" fill="#ffde59"/>
<rect x="747.3" y="1026.8" width="18" height="18" fill="#e91cb8" stroke="#1c1c1c" stroke-width="1.6"/>
<rect x="747.3" y="1073" width="18" height="18" fill="#0cc0df" stroke="#1c1c1c" stroke-width="1.6"/>

<!-- Legend text -->
<g font-size="26.5">
<text x="142.5" y="860" textLength="164.2" lengthAdjust="spacingAndGlyphs">Pittosporum</text>
<text x="142.5" y="906.2" textLength="278.6" lengthAdjust="spacingAndGlyphs">Pennisetum Villosum</text>
<text x="142.5" y="952.4" textLength="272.5" lengthAdjust="spacingAndGlyphs">Lavande Canariensis</text>
<text x="142.5" y="998.6" textLength="352.6" lengthAdjust="spacingAndGlyphs">Veronique Spicata blanche</text>
<text x="142.5" y="1044.8" textLength="339.8" lengthAdjust="spacingAndGlyphs">Pennisetum alopecuroide</text>
<text x="142.5" y="1091" textLength="258.4" lengthAdjust="spacingAndGlyphs">Romarin Prostratus</text>
<text x="142.5" y="1137.2" textLength="137.9" lengthAdjust="spacingAndGlyphs">Bourrache</text>
<text x="781.1" y="860" textLength="224.1" lengthAdjust="spacingAndGlyphs">Romarin officinal</text>
<text x="781.1" y="906.2" textLength="281.3" lengthAdjust="spacingAndGlyphs">Euphorbe cyparissias</text>
<text x="781.1" y="952.4" textLength="348.6" lengthAdjust="spacingAndGlyphs">Veronique longifolia bleue</text>
<text x="781.1" y="998.6" textLength="144.7" lengthAdjust="spacingAndGlyphs">Scabieuses</text>
<text x="781.1" y="1044.8" textLength="131.2" lengthAdjust="spacingAndGlyphs">Geranium</text>
<text x="781.1" y="1091" textLength="92.9" lengthAdjust="spacingAndGlyphs">Achilée</text>
</g>
</svg>
</body>
</html>
